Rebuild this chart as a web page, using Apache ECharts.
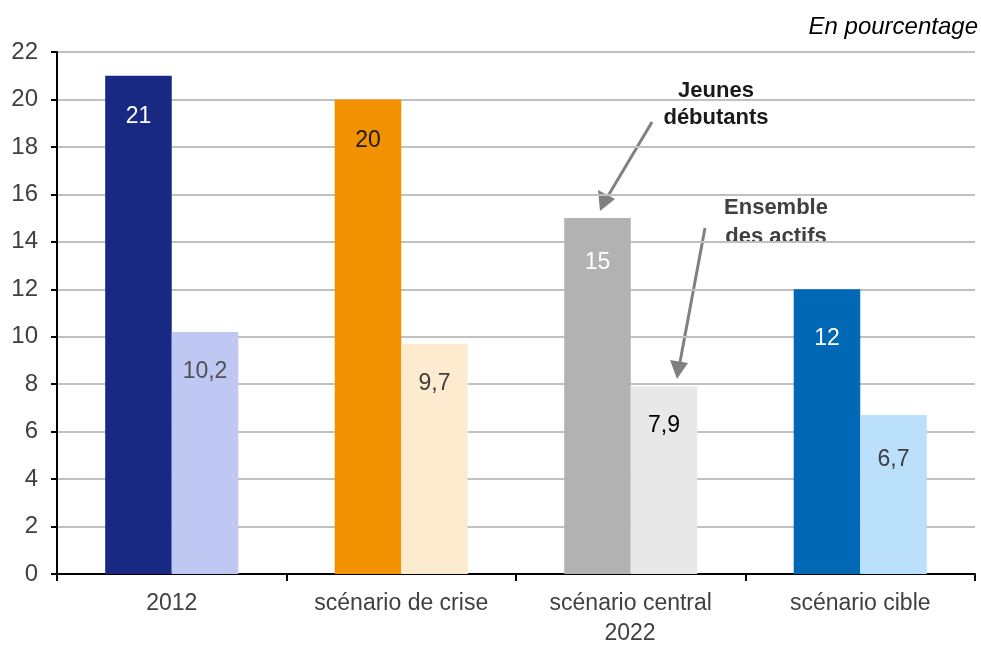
<!DOCTYPE html>
<html>
<head>
<meta charset="utf-8">
<script src="https://cdn.jsdelivr.net/npm/echarts@6/dist/echarts.min.js"></script>
<style>
  html, body { margin: 0; padding: 0; background: #fff; }
  #chart { width: 981px; height: 645px; }
</style>
</head>
<body>
<div id="chart"></div>
<script>
const categories = ['2012', 'scénario de crise', 'scénario central', 'scénario cible']
const jeunes = [21, 20, 15, 12]
const actifs = [10.2, 9.7, 7.9, 6.7]
const yTicks = { min: 0, max: 22, interval: 2 }

// une couleur par catégorie (foncée pour les jeunes, claire pour l'ensemble)
const darkColors = ['#172983', '#F39200', '#B2B2B2', '#0068B4']
const lightColors = ['#BEC8F3', '#FDEBCF', '#E8E8E8', '#BAE0FC']
const darkLabel = ['#ffffff', '#1a1a1a', '#ffffff', '#ffffff']
const lightLabel = ['#505050', '#404040', '#000000', '#404040']
const darkDist = [29, 30, 33, 38]
const lightDist = [28, 28, 28, 33]

const fmt = v => String(v).replace('.', ',')

const chart = echarts.init(document.getElementById('chart'))

const option = {
  animation: false,
  textStyle: { fontFamily: 'Liberation Sans, Arial, sans-serif' },
  grid: { left: 57, right: 6, top: 52, bottom: 71 },
  xAxis: {
    type: 'category',
    data: categories,
    axisLine: { lineStyle: { color: '#000', width: 2 } },
    axisTick: { show: true, length: 7, lineStyle: { color: '#000', width: 2 } },
    axisLabel: { color: '#404040', fontSize: 23, margin: 18 }
  },
  yAxis: {
    type: 'value',
    min: yTicks.min,
    max: yTicks.max,
    interval: yTicks.interval,
    axisLine: { show: true, lineStyle: { color: '#000', width: 2 } },
    axisTick: { show: true, length: 6, lineStyle: { color: '#000', width: 2 } },
    axisLabel: { color: '#404040', fontSize: 24, margin: 19 },
    splitLine: { lineStyle: { color: '#C0C0C0', width: 2 } }
  },
  series: [
    {
      name: 'Jeunes débutants',
      type: 'bar',
      barGap: '0%',
      barCategoryGap: '42%',
      data: jeunes.map((v, i) => ({
        value: v,
        itemStyle: { color: darkColors[i] },
        label: { color: darkLabel[i], distance: darkDist[i] }
      })),
      label: {
        show: true,
        position: 'insideTop',
        fontSize: 23,
        formatter: p => fmt(p.value)
      }
    },
    {
      name: 'Ensemble des actifs',
      type: 'bar',
      data: actifs.map((v, i) => ({
        value: v,
        itemStyle: { color: lightColors[i] },
        label: { color: lightLabel[i], distance: lightDist[i] }
      })),
      label: {
        show: true,
        position: 'insideTop',
        fontSize: 23,
        formatter: p => fmt(p.value)
      }
    }
  ],
  graphic: [
    {
      type: 'text', right: 3, top: 15,
      style: { text: 'En pourcentage', font: 'italic 24px Liberation Sans', fill: '#000' }
    },
    {
      type: 'text', x: 630, y: 634,
      style: { text: '2022', font: '23px Liberation Sans', fill: '#404040', align: 'center', verticalAlign: 'middle' }
    },
    {
      type: 'text', x: 716, y: 104,
      style: { text: 'Jeunes\ndébutants', font: 'bold 22px Liberation Sans', fill: '#1a1a1a', align: 'center', verticalAlign: 'middle', lineHeight: 27 }
    },
    {
      type: 'text', x: 776, y: 222,
      style: { text: 'Ensemble\ndes actifs', font: 'bold 22px Liberation Sans', fill: '#404040', align: 'center', verticalAlign: 'middle', lineHeight: 29 }
    },
    // flèches
    { type: 'line', shape: { x1: 652, y1: 122, x2: 608, y2: 196 }, style: { stroke: '#808080', lineWidth: 3 } },
    { type: 'polygon', shape: { points: [[600, 211], [598, 190], [615, 199]] }, style: { fill: '#808080' } },
    { type: 'line', shape: { x1: 705, y1: 228, x2: 680, y2: 362 }, style: { stroke: '#808080', lineWidth: 3 } },
    { type: 'polygon', shape: { points: [[677, 379], [670, 360], [688, 363]] }, style: { fill: '#808080' } }
  ]
}

option && chart.setOption(option)
</script>
</body>
</html>
